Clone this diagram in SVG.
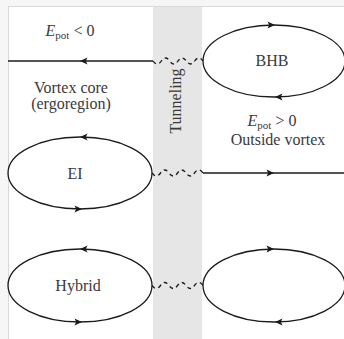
<svg xmlns="http://www.w3.org/2000/svg" xmlns:xlink="http://www.w3.org/1999/xlink" width="344" height="339" viewBox="0 0 344 339">
  <style>
    .page{fill:#f6f6f6}
    .frame{fill:#ffffff;stroke:#d9d9d9;stroke-width:1}
    .band{fill:#e6e6e6}
    .orbit{fill:none;stroke:#1a1a1a;stroke-width:1.3}
    .line{fill:none;stroke:#1a1a1a;stroke-width:1.3}
    .wave{fill:none;stroke:#1a1a1a;stroke-width:1.3;stroke-dasharray:4 3.5}
    .head{fill:#1a1a1a}
    text{font-family:"Liberation Serif","DejaVu Serif",serif;font-size:16px;fill:#3a3a3a}
    .sub{font-size:11px}
    .mid{text-anchor:middle}
  </style>
  <defs>
    <!-- stealth-style arrowhead pointing along +x -->
    <path id="ah" d="M4,0 L-3.5,-3.5 L-1.8,0 L-3.5,3.5 Z"/>
  </defs>

  <!-- page and frame -->
  <rect class="page" x="0" y="0" width="344" height="339"/>
  <rect class="frame" x="8.5" y="6.5" width="340" height="340"/>

  <!-- tunneling barrier -->
  <g id="barrier">
    <rect class="band" x="153" y="7" width="49" height="332"/>
    <text class="mid" transform="translate(181,101) rotate(-90)">Tunneling</text>
  </g>

  <!-- region labels -->
  <g id="labels">
    <text class="mid" x="70" y="36"><tspan font-style="italic">E</tspan><tspan class="sub" dy="3">pot</tspan><tspan dy="-3"> &lt; 0</tspan></text>
    <text class="mid" x="71" y="93">Vortex core</text>
    <text class="mid" x="71" y="109">(ergoregion)</text>
    <text class="mid" x="272" y="126"><tspan font-style="italic">E</tspan><tspan class="sub" dy="3">pot</tspan><tspan dy="-3"> &gt; 0</tspan></text>
    <text class="mid" x="278" y="145">Outside vortex</text>
  </g>

  <!-- orbits -->
  <g id="bhb">
    <ellipse class="orbit" cx="274" cy="61" rx="71" ry="36"/>
    <use xlink:href="#ah" class="head" transform="translate(271,25)"/>
    <use xlink:href="#ah" class="head" transform="translate(279,97) rotate(180)"/>
    <text class="mid" x="272" y="66">BHB</text>
  </g>

  <g id="ei">
    <ellipse class="orbit" cx="80" cy="173" rx="72" ry="36"/>
    <use xlink:href="#ah" class="head" transform="translate(84,137) rotate(180)"/>
    <use xlink:href="#ah" class="head" transform="translate(78,209)"/>
    <text class="mid" x="75" y="179">EI</text>
  </g>

  <g id="hybrid">
    <ellipse class="orbit" cx="80" cy="285.5" rx="72" ry="36.5"/>
    <use xlink:href="#ah" class="head" transform="translate(84,249) rotate(180)"/>
    <use xlink:href="#ah" class="head" transform="translate(78,322)"/>
    <text class="mid" x="78" y="291">Hybrid</text>
  </g>

  <g id="partner">
    <ellipse class="orbit" cx="274" cy="285.5" rx="71" ry="36.5"/>
    <use xlink:href="#ah" class="head" transform="translate(270,249)"/>
    <use xlink:href="#ah" class="head" transform="translate(279,322) rotate(180)"/>
  </g>

  <!-- connectors -->
  <g id="connectors">
    <line class="line" x1="8" y1="61" x2="153" y2="61"/>
    <use xlink:href="#ah" class="head" transform="translate(84,61) rotate(180)"/>
    <line class="line" x1="203" y1="173" x2="344" y2="173"/>
    <use xlink:href="#ah" class="head" transform="translate(270,173)"/>
    <path class="wave" d="M153,61 q4.17,6 8.33,0 t8.33,0 t8.33,0 t8.33,0 t8.33,0 t8.33,0"/>
    <path class="wave" d="M152,173 q4.25,6 8.5,0 t8.5,0 t8.5,0 t8.5,0 t8.5,0 t8.5,0"/>
    <path class="wave" d="M152,285.5 q4.25,6 8.5,0 t8.5,0 t8.5,0 t8.5,0 t8.5,0 t8.5,0"/>
  </g>
</svg>
